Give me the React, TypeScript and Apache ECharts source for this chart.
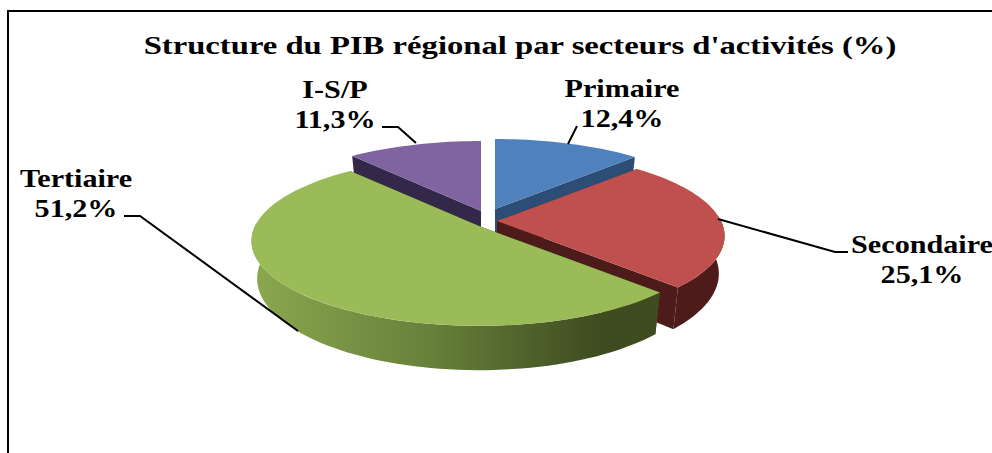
import React, { useEffect, useRef } from "react";
import * as echarts from "echarts";

const chartTitle = "Structure du PIB régional par secteurs d'activités (%)";
const categories = ["Primaire", "Secondaire", "Tertiaire", "I-S/P"];
const shares = [12.4, 25.1, 51.2, 11.3];

// Styling and layout, one entry per category
const topColors = ["#4F81BD", "#C0504D", "#9BBB59", "#8064A2"];
const wallColors = ["#2C4D75", "#4D1C1A", "#3E4C20", "#33284A"];
const paintOrder = [2, 3, 4, 1];
const sliceTips = [[495, 209], [497, 221], [479, 226], [481, 211]];
const labelAnchors = [[622, 103], [922, 259], [76, 193], [335, 104]];
const leaders = [
  [[577, 126], [568, 144]],
  [[718, 219], [835, 252], [848, 252]],
  [[124, 216], [140, 216], [298, 331]],
  [[382, 127], [398, 127], [416, 143]],
];

const RX = 224;
const RY = 82.3;
const PERSPECTIVE = 0.176;
const DEPTH = 36.5;
const BOTTOM_SHRINK = 0.975;
const FONT = "'Liberation Serif', 'Times New Roman', serif";
const TEXT_STRETCH = 1.16;

const rad = (deg: number) => (deg * Math.PI) / 180;
const persp = (deg: number) => 1 / (1 + PERSPECTIVE * Math.cos(rad(deg)));
const topPt = (t: number[], deg: number) => {
  const p = persp(deg);
  return [t[0] + RX * Math.sin(rad(deg)) * p, t[1] - RY * Math.cos(rad(deg)) * p];
};
const botPt = (t: number[], deg: number) => {
  const p = persp(deg);
  return [
    t[0] + RX * BOTTOM_SHRINK * Math.sin(rad(deg)) * p,
    t[1] - RY * Math.cos(rad(deg)) * p + DEPTH * p,
  ];
};
const sweep = (a: number, b: number) => {
  const out: number[] = [];
  const n = Math.max(2, Math.ceil((b - a) / 2));
  for (let i = 0; i <= n; i++) out.push(a + ((b - a) * i) / n);
  return out;
};

const total = shares.reduce((s, v) => s + v, 0);

const renderSlice = (params: any, api: any) => {
  const i = params.dataIndex;
  const value = api.value(0) as number;
  let before = 0;
  for (let k = 0; k < i; k++) before += shares[k];
  const a0 = (before / total) * 360;
  const a1 = ((before + value) / total) * 360;
  const tip = sliceTips[i];
  const tipBottom = [tip[0], tip[1] + DEPTH];
  const z = paintOrder[i] * 10;
  const children: any[] = [];

  // flat faces cut along the slice's two radii
  [a0, a1].forEach((edge) => {
    children.push({
      type: "polygon",
      z2: z,
      shape: { points: [tip, topPt(tip, edge), botPt(tip, edge), tipBottom] },
      style: { fill: wallColors[i] },
    });
  });

  // curved outer wall, only on the front half
  const w0 = Math.max(a0, 90);
  const w1 = Math.min(a1, 272);
  if (w1 > w0) {
    const angles = sweep(w0, w1);
    const isGreen = i === 2;
    children.push({
      type: "polygon",
      z2: z + 1,
      shape: {
        points: [
          ...angles.map((d) => topPt(tip, d)),
          ...angles.slice().reverse().map((d) => botPt(tip, d)),
        ],
      },
      style: {
        fill: isGreen
          ? {
              type: "linear", x: 0, y: 0, x2: 1, y2: 0,
              colorStops: [
                { offset: 0, color: "#8BA84F" },
                { offset: 0.45, color: "#667F3A" },
                { offset: 0.85, color: "#3E4C20" },
                { offset: 1, color: "#3E4C20" },
              ],
            }
          : wallColors[i],
      },
    });
  }

  // top surface
  children.push({
    type: "polygon",
    z2: z + 2,
    shape: { points: [tip, ...sweep(a0, a1).map((d) => topPt(tip, d))] },
    style: { fill: topColors[i] },
  });

  // leader line
  children.push({
    type: "polyline",
    z2: 60,
    shape: { points: leaders[i] },
    style: { stroke: "#000", lineWidth: 2, fill: "none" },
  });

  // label
  const pct = value.toString().replace(".", ",") + "%";
  children.push({
    type: "text",
    z2: 70,
    x: labelAnchors[i][0],
    y: labelAnchors[i][1],
    scaleX: TEXT_STRETCH,
    style: {
      text: `${categories[i]}\n${pct}`,
      font: `bold 26px ${FONT}`,
      lineHeight: 30,
      fill: "#000",
      align: "center",
      verticalAlign: "middle",
    },
  });

  return { type: "group", children };
};

export default function App() {
  const ref = useRef<HTMLDivElement>(null);
  useEffect(() => {
    document.body.style.margin = "0";
    const chart = echarts.init(ref.current!, undefined, { renderer: "svg" });
    chart.setOption({
      animation: false,
      backgroundColor: "#fff",
      graphic: [
        {
          type: "polyline",
          shape: { points: [[8, 453], [8, 11], [992, 11]] },
          style: { stroke: "#000", lineWidth: 2, fill: "none" },
        },
        {
          type: "text",
          x: 520,
          y: 45,
          scaleX: 1.257,
          style: {
            text: chartTitle,
            font: `bold 26px ${FONT}`,
            fill: "#000",
            align: "center",
            verticalAlign: "middle",
          },
        },
      ],
      series: [
        {
          type: "custom",
          coordinateSystem: "none",
          renderItem: renderSlice,
          data: shares.map((v, i) => ({ name: categories[i], value: [v] })),
        },
      ],
    });
    return () => chart.dispose();
  }, []);
  return <div ref={ref} style={{ width: 992, height: 453 }} />;
}
